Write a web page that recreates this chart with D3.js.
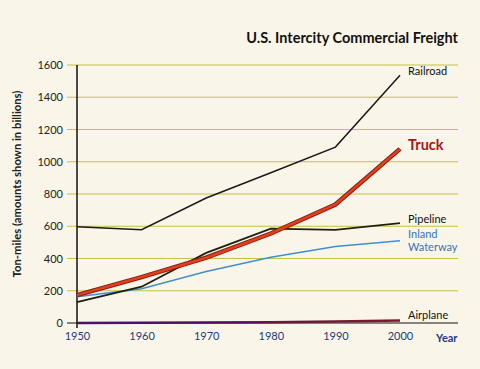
<!DOCTYPE html>
<html>
<head>
<meta charset="utf-8">
<script src="https://cdn.jsdelivr.net/npm/d3@7"></script>
<style>
  body { margin: 0; background: #f9f6e9; }
  svg { display: block; font-family: Lato, "Open Sans", sans-serif; }
</style>
</head>
<body>
<div id="chart"></div>
<script>
var years = [1950, 1960, 1970, 1980, 1990, 2000];
var railroad = [597, 579, 775, 932, 1091, 1536];
var truck = [173, 285, 405, 555, 735, 1080];
var pipeline = [129, 225, 435, 585, 578, 620];
var waterway = [163, 212, 319, 408, 475, 510];
var airplane = [0.3, 1, 3, 5, 10, 16];
var yTicks = [0, 200, 400, 600, 800, 1000, 1200, 1400, 1600];

function init() {
    var w = 480, h = 369;

    var svg = d3.select("#chart").append("svg")
        .attr("width", w)
        .attr("height", h);

    var x = d3.scaleLinear().domain([1950, 2000]).range([77, 400]);
    var y = d3.scaleLinear().domain([0, 1600]).range([323, 65]);

    // airplane color shifts from purple to dark red
    var grad = svg.append("defs").append("linearGradient")
        .attr("id", "airGrad")
        .attr("gradientUnits", "userSpaceOnUse")
        .attr("x1", x(1950)).attr("x2", x(2000))
        .attr("y1", 0).attr("y2", 0);
    grad.append("stop").attr("offset", "0.5").attr("stop-color", "#4b1268");
    grad.append("stop").attr("offset", "0.62").attr("stop-color", "#6a1a3a");
    grad.append("stop").attr("offset", "1").attr("stop-color", "#7a1a2a");

    // title
    svg.append("text")
        .attr("x", 458).attr("y", 43)
        .attr("text-anchor", "end")
        .style("font-size", "14.5px")
        .style("font-weight", "bold")
        .style("fill", "#111")
        .text("U.S. Intercity Commercial Freight");

    // gridlines
    svg.append("g").selectAll("line")
        .data(yTicks.filter(d => d > 0))
        .join("line")
        .attr("x1", 67).attr("x2", 458)
        .attr("y1", d => y(d)).attr("y2", d => y(d))
        .attr("stroke", "#c6c042")
        .attr("stroke-width", 1.2);

    // y axis
    var yAxis = d3.axisLeft(y).tickValues(yTicks).tickSize(0).tickPadding(14).tickFormat(d3.format("d"));
    var gy = svg.append("g")
        .attr("transform", "translate(77,0)")
        .call(yAxis);
    gy.select(".domain").remove();
    gy.selectAll("text")
        .style("font-family", "Lato, sans-serif")
        .style("font-size", "11px")
        .style("fill", "#222");

    svg.append("line")
        .attr("x1", 77).attr("x2", 77)
        .attr("y1", y(1600)).attr("y2", y(0) + 5)
        .attr("stroke", "#111").attr("stroke-width", 1.5);

    // x axis
    var xAxis = d3.axisBottom(x).tickValues(years).tickSize(0).tickPadding(9).tickFormat(d3.format("d"));
    var gx = svg.append("g")
        .attr("transform", "translate(0," + y(0) + ")")
        .call(xAxis);
    gx.select(".domain").remove();
    gx.selectAll("text")
        .style("font-family", "Lato, sans-serif")
        .style("font-size", "11px")
        .style("fill", "#1e3a78");

    svg.append("text")
        .attr("x", 436).attr("y", y(0) + 19)
        .style("font-size", "11px")
        .style("font-weight", "bold")
        .style("fill", "#1e3a8a")
        .text("Year");

    // y axis title
    svg.append("text")
        .attr("transform", "translate(21,184) rotate(-90)")
        .attr("text-anchor", "middle")
        .style("font-size", "11.3px")
        .style("font-weight", "bold")
        .style("fill", "#222")
        .text("Ton-miles (amounts shown in billions)");

    var line = d3.line()
        .x((d, i) => x(years[i]))
        .y(d => y(d));

    svg.append("path").datum(railroad)
        .attr("d", line).attr("fill", "none")
        .attr("stroke", "#1a1a1a").attr("stroke-width", 1.5);

    svg.append("path").datum(waterway)
        .attr("d", line).attr("fill", "none")
        .attr("stroke", "#3f8fd0").attr("stroke-width", 1.5);

    svg.append("path").datum(pipeline)
        .attr("d", line).attr("fill", "none")
        .attr("stroke", "#1e2010").attr("stroke-width", 1.8);

    svg.append("path").datum(truck)
        .attr("d", line).attr("fill", "none")
        .attr("stroke", "#8a1c10").attr("stroke-width", 4.5);
    svg.append("path").datum(truck)
        .attr("d", line).attr("fill", "none")
        .attr("stroke", "#e0401e").attr("stroke-width", 2.5);

    // zero line
    svg.append("line")
        .attr("x1", 67).attr("x2", 458)
        .attr("y1", y(0)).attr("y2", y(0))
        .attr("stroke", "#111").attr("stroke-width", 1.2);

    svg.append("path").datum(airplane)
        .attr("d", line).attr("fill", "none")
        .attr("stroke", "url(#airGrad)").attr("stroke-width", 2.5);

    // series labels
    var labels = [
        { t: "Railroad", v: railroad[5], dy: 0, c: "#111", s: "11px", b: "normal" },
        { t: "Truck", v: truck[5], dy: 1, c: "#a8141a", s: "14.5px", b: "bold" },
        { t: "Pipeline", v: pipeline[5], dy: 0, c: "#111", s: "11px", b: "normal" },
        { t: "Inland", v: waterway[5], dy: -3, c: "#3a70b8", s: "11px", b: "normal" },
        { t: "Waterway", v: waterway[5], dy: 10, c: "#3a70b8", s: "11px", b: "normal" },
        { t: "Airplane", v: airplane[5], dy: -1, c: "#111", s: "11px", b: "normal" }
    ];
    svg.append("g").selectAll("text")
        .data(labels)
        .join("text")
        .attr("x", 408)
        .attr("y", d => y(d.v) + d.dy)
        .style("font-size", d => d.s)
        .style("font-weight", d => d.b)
        .style("fill", d => d.c)
        .text(d => d.t);
}

window.onload = init;
</script>
</body>
</html>
